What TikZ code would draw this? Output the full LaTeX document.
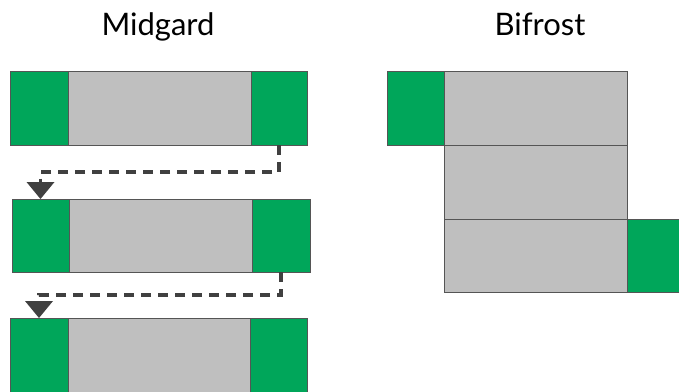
\documentclass[tikz,border=0pt]{standalone}
\usepackage{fontspec}
\setmainfont{Lato}
\usetikzlibrary{arrows.meta}
\definecolor{blockgreen}{RGB}{0,166,90}
\definecolor{blockgray}{RGB}{191,191,191}
\definecolor{edgegray}{RGB}{85,85,85}
\definecolor{linkgray}{RGB}{64,64,64}
\begin{document}
\begin{tikzpicture}[x=1pt,y=-1pt,
  cell/.style={rectangle, draw=edgegray, line width=0.9pt, inner sep=0pt, outer sep=0pt},
  gcell/.style={cell, fill=blockgreen},
  ycell/.style={cell, fill=blockgray},
  title/.style={font=\fontsize{31}{36}\selectfont, anchor=base},
  link/.style={draw=linkgray, line width=3.2pt, dash pattern=on 10pt off 7pt,
    -{Triangle[width=28pt,length=17pt,fill=linkgray,line width=0pt]}}]
\useasboundingbox (0,0) rectangle (679,391);
\clip (0,0) rectangle (679,391);

% titles
\node[title] (tm) at (158,35) {Midgard};
\node[title] (tb) at (540,35) {Bifrost};

% Midgard, first row
\node[gcell, minimum width=58pt, minimum height=74pt] (r1a) at (39,108) {};
\node[ycell, minimum width=183pt, minimum height=74pt] (r1b) at (159.5,108) {};
\node[gcell, minimum width=56pt, minimum height=74pt] (r1c) at (279,108) {};

% Midgard, second row
\node[gcell, minimum width=57pt, minimum height=73pt] (r2a) at (40.5,235.5) {};
\node[ycell, minimum width=183pt, minimum height=73pt] (r2b) at (160.5,235.5) {};
\node[gcell, minimum width=58pt, minimum height=73pt] (r2c) at (281,235.5) {};

% Midgard, third row (runs past the lower edge)
\node[gcell, minimum width=58pt, minimum height=82pt] (r3a) at (39,359) {};
\node[ycell, minimum width=182pt, minimum height=82pt] (r3b) at (159,359) {};
\node[gcell, minimum width=57pt, minimum height=82pt] (r3c) at (278.5,359) {};

% links between the rows
\draw[link] (r1c.south) -- ++(0,27) -| (r2a.north);
\draw[link] (r2c.south) -- ++(0,23) -| (r3a.north);

% Bifrost
\node[gcell, minimum width=57pt, minimum height=74pt] (b1a) at (415.5,108) {};
\node[ycell, minimum width=183pt, minimum height=74pt] (b1b) at (535.5,108) {};
\node[ycell, minimum width=183pt, minimum height=74pt] (b2b) at (535.5,182) {};
\node[ycell, minimum width=183pt, minimum height=73pt] (b3b) at (535.5,255.5) {};
\node[gcell, minimum width=63pt, minimum height=73pt] (b3c) at (658.5,255.5) {};
\end{tikzpicture}
\end{document}
